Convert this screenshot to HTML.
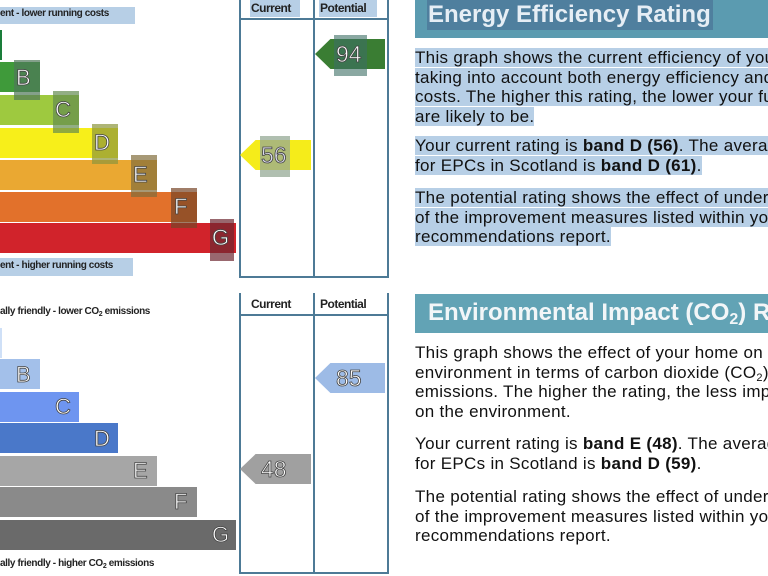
<!DOCTYPE html>
<html><head><style>
html,body{margin:0;padding:0;width:768px;height:576px;overflow:hidden;background:#fff;position:relative;font-family:"Liberation Sans",Arial,sans-serif;}
.a{position:absolute;}
.bar{position:absolute;left:0;height:30px;}
.lt{position:absolute;color:#fff;font-size:22px;font-weight:normal;line-height:30px;-webkit-text-stroke:0.8px #444;}
.hl{position:absolute;background:rgba(60,90,110,0.55);}
.vl{position:absolute;width:2px;background:#4d7a96;}
.hlne{position:absolute;height:2px;background:#4d7a96;}
.hd{position:absolute;font-size:12px;font-weight:bold;color:#222;letter-spacing:-0.5px;}
.arrow{position:absolute;height:30px;clip-path:polygon(0 50%,22% 0,100% 0,100% 100%,22% 100%);}
.num{position:absolute;color:#fff;font-size:23px;line-height:30px;-webkit-text-stroke:0.8px #444;}
.sm{position:absolute;font-size:10px;font-weight:bold;color:#222;white-space:nowrap;letter-spacing:-0.4px;}
.clip{position:absolute;left:415px;width:353px;overflow:hidden;}
.p{position:absolute;left:415px;width:353px;overflow:hidden;font-size:17px;color:#111;white-space:nowrap;line-height:19.5px;letter-spacing:0.3px;}
.p span.s{background:#b7cfe6;}
sub{vertical-align:-0.25em;line-height:0;}
</style></head><body>
<!-- TOP CHART -->
<div class="a" style="left:0;top:7px;width:135px;height:17px;background:#b7cfe6"></div>
<div class="sm" style="left:0;top:8px">ent - lower running costs</div>
<div class="bar" style="top:30px;width:2px;background:#1a7d3a"></div>
<div class="bar" style="top:62px;width:40px;background:#3f9a3a"></div>
<div class="bar" style="top:95px;width:79px;background:#9ec93f"></div>
<div class="bar" style="top:128px;width:118px;background:#f7ef1a"></div>
<div class="bar" style="top:160px;width:157px;background:#eaa832"></div>
<div class="bar" style="top:192px;width:197px;background:#e2712b"></div>
<div class="bar" style="top:223px;width:236px;background:#d1232b"></div>
<div class="hl" style="left:14px;top:60px;width:26px;height:40px;background:rgba(80,120,90,0.7)"></div>
<div class="hl" style="left:53px;top:91px;width:26px;height:42px;background:rgba(100,140,80,0.7)"></div>
<div class="hl" style="left:92px;top:124px;width:26px;height:40px;background:rgba(140,150,60,0.7)"></div>
<div class="hl" style="left:131px;top:155px;width:26px;height:42px;background:rgba(130,110,60,0.7)"></div>
<div class="hl" style="left:171px;top:188px;width:26px;height:40px;background:rgba(120,70,40,0.7)"></div>
<div class="hl" style="left:210px;top:219px;width:24px;height:42px;background:rgba(110,40,50,0.7)"></div>
<div class="lt" style="left:16px;top:63px">B</div>
<div class="lt" style="left:55px;top:95px">C</div>
<div class="lt" style="left:94px;top:128px">D</div>
<div class="lt" style="left:133px;top:160px">E</div>
<div class="lt" style="left:174px;top:192px">F</div>
<div class="lt" style="left:212px;top:223px">G</div>
<div class="a" style="left:0;top:258px;width:133px;height:18px;background:#b7cfe6"></div>
<div class="sm" style="left:0;top:260px">ent - higher running costs</div>
<div class="vl" style="left:239px;top:0;height:278px"></div>
<div class="vl" style="left:313px;top:0;height:278px"></div>
<div class="vl" style="left:387px;top:0;height:278px"></div>
<div class="hlne" style="left:239px;top:18px;width:150px"></div>
<div class="hlne" style="left:239px;top:276px;width:150px"></div>
<div class="a" style="left:250px;top:0;width:50px;height:17px;background:#b7cfe6"></div>
<div class="a" style="left:319px;top:0;width:58px;height:17px;background:#b7cfe6"></div>
<div class="hd" style="left:251px;top:1px">Current</div>
<div class="hd" style="left:320px;top:1px">Potential</div>
<div class="arrow" style="left:315px;top:39px;width:70px;background:#3a7d33"></div>
<div class="hl" style="left:334px;top:35px;width:33px;height:41px;background:rgba(60,110,100,0.6)"></div>
<div class="num" style="left:336px;top:39px">94</div>
<div class="arrow" style="left:240px;top:140px;width:71px;background:#f5ec1a"></div>
<div class="hl" style="left:260px;top:136px;width:30px;height:41px;background:rgba(150,170,150,0.75)"></div>
<div class="num" style="left:261px;top:140px;color:#dde;">56</div>

<!-- BOTTOM CHART -->
<div class="sm" style="left:0;top:306px">ally friendly - lower CO<sub style="font-size:7px">2</sub> emissions</div>
<div class="bar" style="top:328px;width:2px;background:#cfe0f7"></div>
<div class="bar" style="top:359px;width:40px;background:#a3c0ea"></div>
<div class="bar" style="top:392px;width:79px;background:#6e95f0"></div>
<div class="bar" style="top:423px;width:118px;background:#4a78c9"></div>
<div class="bar" style="top:456px;width:157px;background:#a6a6a6"></div>
<div class="bar" style="top:487px;width:197px;background:#8a8a8a"></div>
<div class="bar" style="top:520px;width:236px;background:#6a6a6a"></div>
<div class="lt" style="left:16px;top:360px">B</div>
<div class="lt" style="left:55px;top:392px">C</div>
<div class="lt" style="left:94px;top:424px">D</div>
<div class="lt" style="left:133px;top:456px">E</div>
<div class="lt" style="left:174px;top:487px">F</div>
<div class="lt" style="left:212px;top:520px">G</div>
<div class="sm" style="left:0;top:558px">ally friendly - higher CO<sub style="font-size:7px">2</sub> emissions</div>
<div class="vl" style="left:239px;top:293px;height:281px"></div>
<div class="vl" style="left:313px;top:293px;height:281px"></div>
<div class="vl" style="left:387px;top:293px;height:281px"></div>
<div class="hlne" style="left:239px;top:314px;width:150px"></div>
<div class="hlne" style="left:239px;top:572px;width:150px"></div>
<div class="hd" style="left:251px;top:297px">Current</div>
<div class="hd" style="left:320px;top:297px">Potential</div>
<div class="arrow" style="left:315px;top:363px;width:70px;background:#9dbbe6"></div>
<div class="num" style="left:336px;top:363px">85</div>
<div class="arrow" style="left:240px;top:454px;width:71px;background:#a0a0a0"></div>
<div class="num" style="left:261px;top:454px">48</div>

<!-- RIGHT TEXT -->
<div class="clip" style="top:0;height:38px;background:#5b9bb0">
  <div class="a" style="left:12px;top:0;width:286px;height:30px;background:#4f7f9e"></div>
  <div class="a" style="left:13px;top:1px;font-size:24px;font-weight:bold;color:#e6eef5;white-space:nowrap">Energy Efficiency Rating</div>
</div>
<div class="p" style="top:48px"><span class="s">This graph shows the current efficiency of your home,</span><br><span class="s">taking into account both energy efficiency and fuel</span><br><span class="s">costs. The higher this rating, the lower your fuel bills</span><br><span class="s">are likely to be.</span></div>
<div class="p" style="top:136px"><span class="s">Your current rating is <b>band D (56)</b>. The average rating</span><br><span class="s">for EPCs in Scotland is <b>band D (61)</b>.</span></div>
<div class="p" style="top:188px"><span class="s">The potential rating shows the effect of undertaking all</span><br><span class="s">of the improvement measures listed within your</span><br><span class="s">recommendations report.</span></div>

<div class="clip" style="top:294px;height:39px;background:#62a3b5">
  <div class="a" style="left:13px;top:5px;font-size:24px;font-weight:bold;color:#f2f6f8;white-space:nowrap">Environmental Impact (CO<sub style="font-size:16px">2</sub>) Rating</div>
</div>
<div class="p" style="top:343px;height:80px">This graph shows the effect of your home on the<br>environment in terms of carbon dioxide (CO<sub style="font-size:11px">2</sub>)<br>emissions. The higher the rating, the less impact it has<br>on the environment.</div>
<div class="p" style="top:434px">Your current rating is <b>band E (48)</b>. The average rating<br>for EPCs in Scotland is <b>band D (59)</b>.</div>
<div class="p" style="top:487px">The potential rating shows the effect of undertaking all<br>of the improvement measures listed within your<br>recommendations report.</div>
</body></html>
